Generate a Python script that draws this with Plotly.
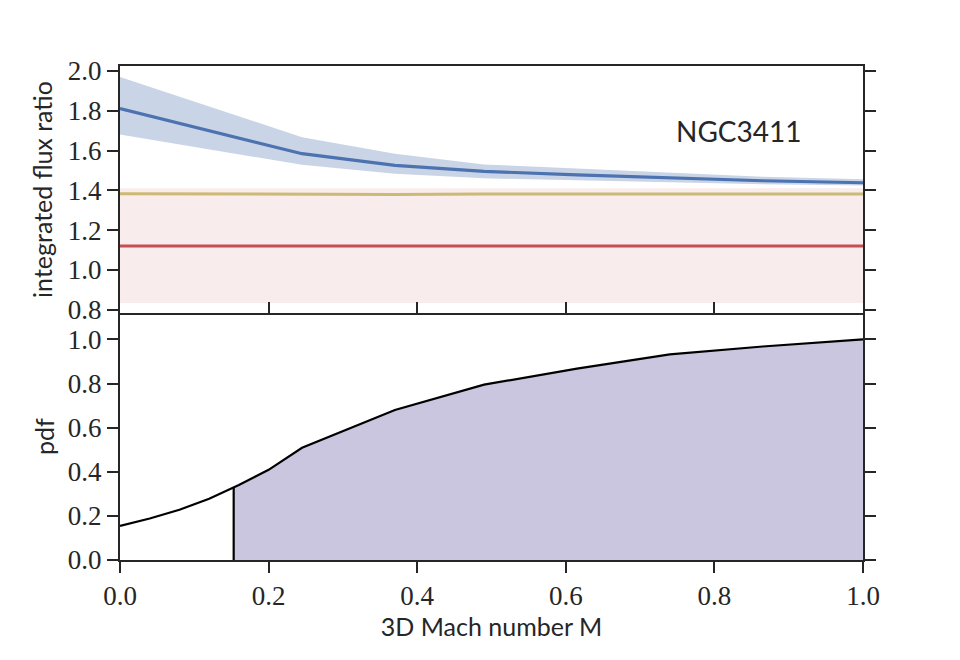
import plotly.graph_objects as go
from plotly.subplots import make_subplots

# ---- data ----
mach = [0.0, 0.245, 0.37, 0.49, 0.615, 0.74, 0.865, 1.0]
ratio_mid = [1.811, 1.584, 1.525, 1.495, 1.478, 1.462, 1.448, 1.438]
ratio_hi = [1.970, 1.667, 1.584, 1.530, 1.510, 1.490, 1.468, 1.455]
ratio_lo = [1.680, 1.528, 1.483, 1.460, 1.447, 1.440, 1.430, 1.424]
ratio_obs = [1.383, 1.379, 1.379, 1.382, 1.381, 1.380, 1.380, 1.381]

obs_x = [0.0, 1.0]
obs_val = [1.12, 1.12]
obs_lo = [0.833, 0.833]
obs_hi = [1.41, 1.41]

pdf_x = [0.0, 0.04, 0.08, 0.12, 0.16, 0.2, 0.245, 0.37, 0.49, 0.615, 0.74, 0.865, 1.0]
pdf_y = [0.155, 0.188, 0.228, 0.278, 0.34, 0.409, 0.509, 0.68, 0.795, 0.868, 0.932, 0.968, 1.0]

shade_x = [0.153, 0.16, 0.2, 0.245, 0.37, 0.49, 0.615, 0.74, 0.865, 1.0]
shade_y = [0.329, 0.34, 0.409, 0.509, 0.68, 0.795, 0.868, 0.932, 0.968, 1.0]

cut_x = [0.153, 0.153]
cut_y = [0.0, 0.329]

label = "NGC3411"

SANS = "Lato"
SERIF = "Liberation Serif"
DARK = "#262626"

fig = make_subplots(rows=2, cols=1, shared_xaxes=False, vertical_spacing=0.0)

# top panel
fig.add_trace(go.Scatter(x=obs_x + obs_x[::-1], y=obs_hi + obs_lo[::-1], mode="lines",
                         fill="toself", fillcolor="rgba(196,78,82,0.11)", line=dict(width=0),
                         hoverinfo="skip", showlegend=False), row=1, col=1)
fig.add_trace(go.Scatter(x=mach + mach[::-1], y=ratio_hi + ratio_lo[::-1], mode="lines",
                         fill="toself", fillcolor="rgba(76,114,176,0.3)", line=dict(width=0),
                         hoverinfo="skip", showlegend=False), row=1, col=1)
fig.add_trace(go.Scatter(x=obs_x, y=obs_val, mode="lines",
                         line=dict(color="#c44e52", width=3), showlegend=False), row=1, col=1)
fig.add_trace(go.Scatter(x=mach, y=ratio_obs, mode="lines",
                         line=dict(color="#ccb974", width=3), showlegend=False), row=1, col=1)
fig.add_trace(go.Scatter(x=mach, y=ratio_mid, mode="lines",
                         line=dict(color="#4c72b0", width=3.2), showlegend=False), row=1, col=1)

# bottom panel
fig.add_trace(go.Scatter(x=shade_x, y=shade_y, mode="lines", fill="tozeroy",
                         fillcolor="#cbc6e0", line=dict(width=0),
                         hoverinfo="skip", showlegend=False), row=2, col=1)
fig.add_trace(go.Scatter(x=pdf_x, y=pdf_y, mode="lines",
                         line=dict(color="black", width=2.2), showlegend=False), row=2, col=1)
fig.add_trace(go.Scatter(x=cut_x, y=cut_y, mode="lines",
                         line=dict(color="black", width=2.2), showlegend=False), row=2, col=1)

axis_common = dict(showgrid=False, zeroline=False, showline=True, linecolor=DARK,
                   linewidth=2, tickcolor=DARK, tickwidth=1.5, ticklen=11,
                   tickfont=dict(family=SERIF, size=27, color=DARK))

fig.update_xaxes(range=[0, 1], tickvals=[0, 0.2, 0.4, 0.6, 0.8, 1.0], ticks="inside",
                 showticklabels=False, mirror=True, row=1, col=1, **axis_common)
fig.update_xaxes(range=[0, 1], tickvals=[0, 0.2, 0.4, 0.6, 0.8, 1.0],
                 ticktext=["0.0", "0.2", "0.4", "0.6", "0.8", "1.0"], ticks="outside",
                 mirror=False, row=2, col=1,
                 title=dict(text="3D Mach number M", font=dict(family=SANS, size=25, color=DARK),
                            standoff=4),
                 **axis_common)
fig.update_yaxes(range=[0.783, 2.025], tickvals=[0.8, 1.0, 1.2, 1.4, 1.6, 1.8, 2.0],
                 ticktext=["0.8", "1.0", "1.2", "1.4", "1.6", "1.8", "2.0"],
                 ticks="outside", mirror="ticks", row=1, col=1,
                 title=dict(text="integrated flux ratio", font=dict(family=SANS, size=25, color=DARK),
                            standoff=8),
                 **axis_common)
fig.update_yaxes(range=[0, 1.12], tickvals=[0, 0.2, 0.4, 0.6, 0.8, 1.0],
                 ticktext=["0.0", "0.2", "0.4", "0.6", "0.8", "1.0"],
                 ticks="outside", mirror="ticks", row=2, col=1,
                 title=dict(text="pdf", font=dict(family=SANS, size=25, color=DARK), standoff=6),
                 **axis_common)

fig.update_layout(
    width=960, height=660,
    margin=dict(l=120, r=97, t=66, b=100),
    paper_bgcolor="white", plot_bgcolor="white",
    showlegend=False,
)
fig.update_layout(yaxis=dict(domain=[0.5, 1.0]), yaxis2=dict(domain=[0.0, 0.5]))

fig.add_annotation(x=0.833, y=1.70, xref="x", yref="y", text=label, showarrow=False,
                   font=dict(family=SANS, size=28, color=DARK))

fig.write_html("out.html")
